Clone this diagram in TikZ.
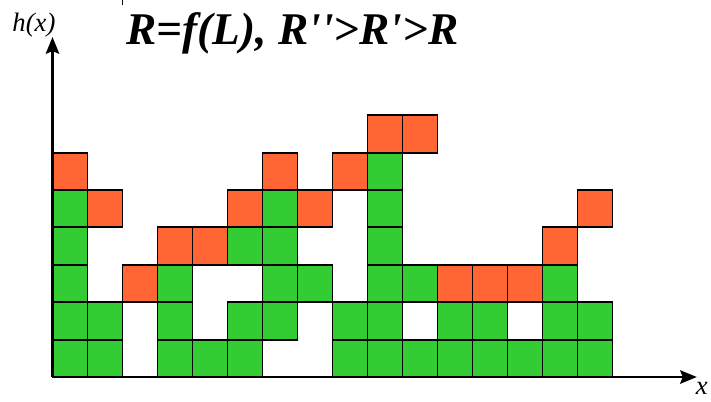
\documentclass[tikz,border=0pt]{standalone}
\usepackage{fontspec}
\setmainfont{Liberation Serif}
\usetikzlibrary{arrows.meta}
\definecolor{cellgreen}{RGB}{51,204,51}
\definecolor{cellred}{RGB}{255,102,51}

\begin{document}
\begin{tikzpicture}[
  x=26.25pt, y=28.05pt,
  axis/.style={-{Stealth[length=12.5pt,width=10pt,inset=2pt]}, line width=2.2pt},
  gcell/.style={fill=cellgreen, draw=black, line width=1.4pt},
  rcell/.style={fill=cellred, draw=black, line width=1.4pt},
  lbl/.style={font=\itshape\fontsize{20}{20}\selectfont, inner sep=0pt},
]
\useasboundingbox (-1.5,-0.668) rectangle (18.814,10.08);
% green cells, column/row
\foreach \c/\r in {0/0,0/1,0/2,0/3,0/4, 1/0,1/1, 3/0,3/1,3/2, 4/0, 5/0,5/1,5/3,
    6/1,6/2,6/3,6/4, 7/2, 8/0,8/1, 9/0,9/1,9/2,9/3,9/4,9/5, 10/0,10/2,
    11/0,11/1, 12/0,12/1, 13/0, 14/0,14/1,14/2, 15/0,15/1}
  \draw[gcell] (\c,\r) rectangle ++(1,1);
% red cells
\foreach \c/\r in {0/5,1/4,2/2,3/3,4/3,5/4,6/5,7/4,8/5,9/6,10/6,11/2,12/2,13/2,14/3,15/4}
  \draw[rcell] (\c,\r) rectangle ++(1,1);
% axes
\coordinate (o) at (0,0);
\coordinate (ytip) at (0,9.09);
\coordinate (xtip) at (18.41,0);
\draw[axis] (o) -- (ytip);
\draw[axis] (o) -- (xtip);
\node[lbl, anchor=base] (hlab) at (-0.53,9.225) {h(x)};
\node[lbl, anchor=base] (xlab) at (18.55,-0.46) {x};
% title
\node[font=\bfseries\itshape\fontsize{34}{34}\selectfont, anchor=base, inner sep=0pt] (title) at (6.857,8.877)
  {R=f(L), R\textquotesingle\textquotesingle>R\textquotesingle>R};
\coordinate (tk1) at (2.006,10.08);
\coordinate (tk2) at (2.006,9.95);
\draw[line width=0.8pt] (tk1) -- (tk2);
\end{tikzpicture}
\end{document}
